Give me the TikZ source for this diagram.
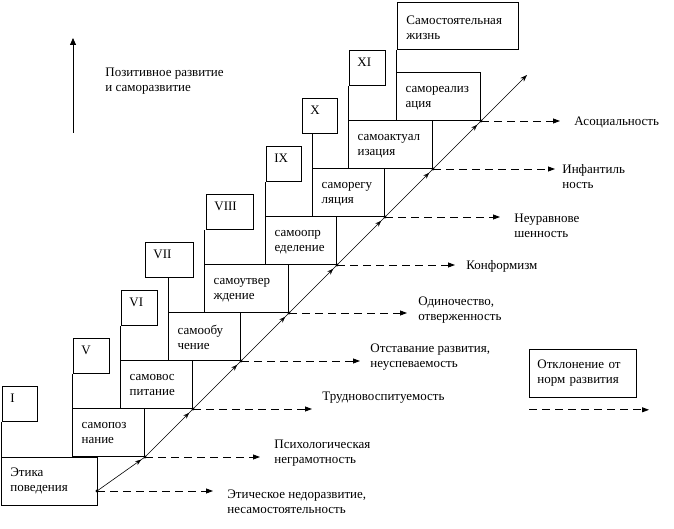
\documentclass[tikz,border=0pt]{standalone}
\usepackage{fontspec}
\setmainfont{Liberation Serif}
\usetikzlibrary{arrows.meta,decorations.markings}

\begin{document}
\begin{tikzpicture}[x=1pt,y=-1pt,line width=0.8pt,
    every node/.style={font=\fontsize{13}{15}\selectfont},
    stagebox/.style={draw,anchor=south east,minimum height=48pt,align=left,inner xsep=9pt,inner ysep=0pt,text depth=14pt},
    romanbox/.style={draw,anchor=north west,align=left,inner xsep=8pt,inner ysep=5pt,text height=11.5pt,text depth=13.5pt},
    txt/.style={anchor=west,align=left,inner sep=0pt},
    stair/.style={line width=0.6pt,postaction={decorate},
        decoration={markings,mark=at position 0.92 with {\arrow{Stealth[length=6pt,width=4.5pt]}}}},
    dev/.style={dash pattern=on 8pt off 5pt,-{Triangle[length=7pt,width=5pt]}}]
    \useasboundingbox (0,0) rectangle (674,529);

    % first step and the top box
    \node[draw,anchor=north west,minimum height=48pt,text width=78pt,inner xsep=9pt,align=left] (E) at (1,457) {Этика\\поведения};
    \node[draw,anchor=north west,minimum height=47pt,text width=103pt,inner xsep=9pt,inner ysep=0pt,align=left,text depth=12pt] (J) at (397,2) {Самостоятельная\\жизнь};

    % stairs
    \foreach \i/\l/\txt in {0/73/{самопоз\\нание},1/121/{самовос\\питание},2/169/{самообу\\чение},
                            3/205/{самоутвер\\ждение},4/266/{самоопр\\еделение},5/313/{саморегу\\ляция},
                            6/349/{самоактуал\\изация},7/397/{самореализ\\ация}}{
        \pgfmathsetmacro\tw{145+48*\i-\l-18}
        \node[stagebox,text width=\tw pt] (S-\i) at (145+48*\i,457-48*\i) {\txt};
    }

    % school classes
    \foreach \i/\x/\w/\txt in {1/2/35/I,2/73/36/V,3/121/36/VI,4/145/48/VII,
                               5/206/47/VIII,6/266/35/IX,7/302/35/X,8/349/36/XI}{
        \pgfmathsetmacro\tw{\w-16}
        \pgfmathsetmacro\ry{386-48*(\i-1)}
        \node[romanbox,text width=\tw pt] (R-\i) at (\x,\ry) {\txt};
    }
    \draw (E.north west) -- (E.north west |- R-1.south);
    \foreach \i [evaluate=\i as \j using int(\i+2)] in {0,...,6}{
        \draw (S-\i.north west) -- (S-\i.north west |- R-\j.south);
    }
    \draw (S-7.north west) -- (S-7.north west |- J.south);

    % diagonal
    \coordinate (D-0) at (97,491);
    \foreach \i [evaluate=\i as \j using int(\i+1)] in {0,...,7}{
        \coordinate (D-\j) at (S-\i.south east);
    }
    \coordinate (Top) at (527,75);
    \foreach \i [evaluate=\i as \j using int(\i+1)] in {0,...,7}{
        \draw[stair] (D-\i) -- (D-\j);
    }
    \draw[line width=0.6pt,-{Stealth[length=7pt,width=5pt]}] (D-8) -- (Top);

    % deviations
    \foreach \i/\len in {0/116,1/115,2/119,3/119,4/118,5/118,6/115,7/122,8/79}{
        \draw[dev] (D-\i) -- ++(\len,0) coordinate (T-\i);
        \fill (D-\i) circle (1.6pt);
    }
    \foreach \i/\x/\y/\txt in {0/227/501.5/{Этическое недоразвитие,\\несамостоятельность},
                               1/274/453.5/{Психологическая\\неграмотность},
                               2/322/398/Трудновоспитуемость,
                               3/370/357.5/{Отставание развития,\\неуспеваемость},
                               4/418/310/{Одиночество,\\отверженность},
                               5/466/266/Конформизм,
                               6/514/225.5/{Неуравнове\\шенность},
                               7/562/176.5/{Инфантиль\\ность},
                               8/574/122/Асоциальность}{
        \node[txt] (L-\i) at (\x,\y) {\txt};
    }

    % legend
    \coordinate (P0) at (73,133);
    \coordinate (P1) at (73,38);
    \draw[-{Triangle[length=7pt,width=6pt]}] (P0) -- (P1);
    \node[txt] (Pos) at (105,81.5) {Позитивное развитие\\и саморазвитие};
    \node[draw,anchor=north west,minimum height=48pt,text width=91pt,inner xsep=8pt,align=left] (Leg) at (529,349) {Отклонение от\\норм развития};
    \draw[dev] ([yshift=-12pt]Leg.south west) -- ++(120,0) coordinate (G-1);
\end{tikzpicture}
\end{document}
